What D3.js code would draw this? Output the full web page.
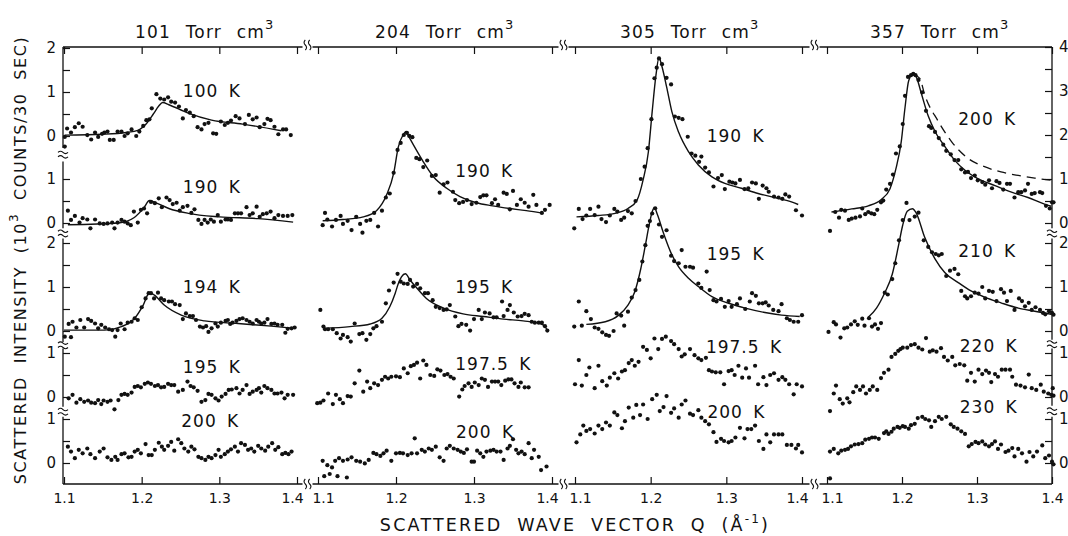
<!DOCTYPE html>
<html><head><meta charset="utf-8">
<script src="https://cdn.jsdelivr.net/npm/d3@7"></script>
<style>
body{margin:0;background:#fff}
svg{display:block}
text{font-family:"DejaVu Sans",sans-serif;fill:#111}
</style>
</head><body>
<svg id="c" width="1068" height="536"></svg>
<script>
// ---------------- DATA ----------------
const panelTitles = ["101", "204", "305", "357"];
const qTicks = [1.1, 1.2, 1.3, 1.4];
const xTitle = "SCATTERED WAVE VECTOR";
const yTitle = "SCATTERED INTENSITY";

// 101 Torr cm3
const d101_100K = [[1.101,-0.24],[1.101,-0.02],[1.104,0.17],[1.109,0.08],[1.114,0.20],[1.119,0.29],[1.124,0.21],[1.130,0.02],[1.135,-0.08],[1.140,0.08],[1.144,-0.02],[1.149,0.05],[1.152,0.08],[1.156,0.10],[1.159,-0.09],[1.164,-0.09],[1.169,0.10],[1.174,0.10],[1.178,0.00],[1.182,0.06],[1.187,0.15],[1.193,0.00],[1.197,0.10],[1.202,0.23],[1.206,0.36],[1.210,0.38],[1.213,0.63],[1.219,0.95],[1.224,0.85],[1.229,0.83],[1.234,0.88],[1.238,0.78],[1.243,0.76],[1.248,0.67],[1.253,0.40],[1.257,0.59],[1.262,0.53],[1.267,0.45],[1.272,0.20],[1.277,0.15],[1.281,0.27],[1.286,0.30],[1.292,0.06],[1.296,0.05],[1.302,0.33],[1.307,0.25],[1.311,0.30],[1.315,0.35],[1.321,0.45],[1.326,0.40],[1.333,0.27],[1.338,0.48],[1.343,0.38],[1.348,0.42],[1.352,0.20],[1.358,0.27],[1.362,0.39],[1.366,0.36],[1.371,0.21],[1.376,0.04],[1.382,0.15],[1.386,0.15],[1.392,0.02]];
const f101_100K = [[1.101,0.02],[1.15,0.04],[1.18,0.08],[1.195,0.13],[1.206,0.28],[1.215,0.50],[1.222,0.68],[1.227,0.76],[1.235,0.71],[1.26,0.52],[1.29,0.36],[1.33,0.27],[1.38,0.12]];

const d101_190K = [[1.105,0.28],[1.109,0.07],[1.114,0.16],[1.120,0.01],[1.124,0.11],[1.130,0.08],[1.134,-0.12],[1.140,0.08],[1.146,-0.01],[1.151,-0.02],[1.156,-0.01],[1.162,0.01],[1.165,-0.12],[1.169,0.01],[1.174,0.07],[1.178,0.03],[1.182,-0.01],[1.186,-0.05],[1.190,0.26],[1.195,0.01],[1.199,0.30],[1.203,0.33],[1.207,0.22],[1.212,0.48],[1.217,0.45],[1.222,0.56],[1.226,0.36],[1.232,0.58],[1.236,0.52],[1.240,0.43],[1.245,0.46],[1.249,0.28],[1.253,0.36],[1.259,0.39],[1.264,0.23],[1.268,0.31],[1.273,0.07],[1.277,-0.02],[1.281,0.07],[1.285,0.01],[1.289,0.08],[1.293,0.03],[1.298,0.18],[1.302,0.03],[1.308,0.08],[1.311,0.08],[1.315,0.07],[1.320,0.22],[1.324,0.22],[1.328,0.22],[1.335,0.36],[1.339,0.18],[1.343,0.22],[1.348,0.37],[1.352,0.14],[1.356,0.20],[1.361,0.22],[1.366,0.26],[1.371,0.11],[1.376,0.18],[1.382,0.16],[1.388,0.16],[1.394,0.18]];
const f101_190K = [[1.105,-0.04],[1.17,0.0],[1.19,0.12],[1.203,0.35],[1.210,0.51],[1.217,0.47],[1.235,0.33],[1.26,0.22],[1.30,0.14],[1.35,0.10],[1.395,0.02]];

const d101_194K = [[1.101,-0.13],[1.109,-0.14],[1.106,0.16],[1.111,0.21],[1.116,0.08],[1.121,0.25],[1.126,0.08],[1.131,0.27],[1.135,0.23],[1.140,0.17],[1.144,0.06],[1.148,0.14],[1.153,0.08],[1.158,0.04],[1.162,0.02],[1.166,-0.13],[1.169,0.02],[1.173,0.17],[1.178,0.04],[1.182,0.19],[1.187,0.21],[1.191,0.29],[1.195,0.25],[1.200,0.54],[1.205,0.74],[1.209,0.86],[1.212,0.86],[1.216,0.74],[1.221,0.87],[1.225,0.74],[1.229,0.70],[1.235,0.67],[1.239,0.67],[1.243,0.61],[1.249,0.59],[1.253,0.27],[1.257,0.40],[1.262,0.34],[1.266,0.34],[1.270,0.25],[1.275,0.10],[1.279,0.08],[1.283,0.11],[1.286,-0.02],[1.290,0.06],[1.295,0.17],[1.298,0.10],[1.302,0.19],[1.308,0.23],[1.311,0.25],[1.314,0.16],[1.317,0.19],[1.322,0.23],[1.326,0.27],[1.330,0.29],[1.335,0.25],[1.339,0.21],[1.343,0.17],[1.348,0.25],[1.351,0.21],[1.354,0.17],[1.358,0.19],[1.362,0.27],[1.367,0.16],[1.371,0.17],[1.375,0.14],[1.381,0.14],[1.385,-0.04],[1.388,0.05],[1.393,0.06],[1.397,0.08]];
const f101_194K = [[1.100,0.02],[1.152,0.02],[1.174,0.10],[1.191,0.29],[1.202,0.59],[1.210,0.87],[1.216,0.82],[1.229,0.59],[1.251,0.36],[1.281,0.23],[1.324,0.17],[1.367,0.11],[1.397,0.06]];

const d101_195K = [[1.106,-0.03],[1.111,0.05],[1.116,-0.13],[1.121,-0.05],[1.126,-0.11],[1.131,-0.08],[1.135,-0.13],[1.140,-0.14],[1.144,-0.07],[1.148,-0.16],[1.151,-0.08],[1.156,-0.11],[1.160,-0.08],[1.165,-0.28],[1.170,-0.07],[1.174,0.05],[1.178,0.07],[1.182,0.05],[1.187,0.10],[1.191,0.23],[1.195,0.25],[1.199,0.22],[1.204,0.30],[1.208,0.33],[1.212,0.30],[1.217,0.25],[1.221,0.27],[1.225,0.22],[1.229,0.23],[1.234,0.30],[1.238,0.27],[1.242,0.27],[1.247,0.12],[1.253,0.16],[1.259,0.35],[1.263,0.25],[1.267,0.22],[1.272,0.14],[1.277,-0.11],[1.282,-0.07],[1.286,0.07],[1.290,0.05],[1.295,-0.03],[1.299,-0.08],[1.303,0.01],[1.308,0.07],[1.312,0.16],[1.316,0.17],[1.322,0.20],[1.326,0.08],[1.330,0.16],[1.335,0.27],[1.339,0.07],[1.343,0.12],[1.348,0.16],[1.351,0.20],[1.354,0.10],[1.358,0.25],[1.362,0.20],[1.367,0.16],[1.371,0.08],[1.375,0.08],[1.380,0.10],[1.384,-0.03],[1.388,0.05],[1.395,0.05]];

const d101_200K = [[1.105,0.37],[1.109,0.26],[1.114,0.11],[1.119,0.30],[1.124,0.22],[1.130,0.33],[1.134,0.20],[1.140,0.11],[1.146,0.26],[1.151,0.33],[1.156,0.13],[1.161,0.07],[1.166,0.14],[1.169,0.07],[1.174,0.20],[1.178,0.22],[1.183,0.13],[1.187,0.14],[1.191,0.26],[1.195,0.30],[1.199,0.22],[1.205,0.43],[1.209,0.18],[1.213,0.18],[1.217,0.30],[1.222,0.46],[1.226,0.37],[1.229,0.30],[1.234,0.39],[1.238,0.48],[1.242,0.28],[1.247,0.54],[1.251,0.45],[1.255,0.33],[1.260,0.26],[1.264,0.37],[1.268,0.31],[1.273,0.14],[1.277,0.11],[1.282,0.07],[1.286,0.14],[1.290,0.11],[1.295,0.18],[1.299,0.30],[1.302,0.14],[1.307,0.20],[1.311,0.26],[1.315,0.31],[1.320,0.37],[1.324,0.26],[1.328,0.45],[1.333,0.41],[1.337,0.30],[1.341,0.33],[1.345,0.26],[1.350,0.39],[1.354,0.33],[1.359,0.28],[1.363,0.37],[1.368,0.45],[1.372,0.30],[1.376,0.36],[1.381,0.20],[1.385,0.23],[1.389,0.20],[1.393,0.26]];

// 204 Torr cm3
const d204_190K = [[1.106,-0.05],[1.109,0.23],[1.112,0.08],[1.118,-0.08],[1.123,0.07],[1.129,0.16],[1.132,-0.02],[1.138,0.05],[1.143,-0.16],[1.149,0.14],[1.154,-0.02],[1.157,-0.22],[1.162,0.05],[1.167,0.07],[1.172,0.23],[1.177,-0.08],[1.182,0.28],[1.187,0.58],[1.192,0.67],[1.197,1.14],[1.202,1.66],[1.206,1.82],[1.210,2.00],[1.214,2.05],[1.217,1.98],[1.221,1.95],[1.226,1.48],[1.230,1.45],[1.235,1.27],[1.240,1.42],[1.246,1.07],[1.251,1.09],[1.256,0.69],[1.261,0.88],[1.266,0.92],[1.273,0.71],[1.276,0.52],[1.281,0.45],[1.286,0.48],[1.291,0.52],[1.297,0.43],[1.303,0.46],[1.308,0.59],[1.312,0.63],[1.316,0.63],[1.323,0.45],[1.327,0.54],[1.331,0.41],[1.338,0.69],[1.342,0.66],[1.346,0.31],[1.350,0.73],[1.355,0.41],[1.360,0.54],[1.365,0.46],[1.370,0.37],[1.376,0.64],[1.380,0.41],[1.387,0.23],[1.391,0.30],[1.397,0.41]];
const f204_190K = [[1.106,0.05],[1.132,0.08],[1.158,0.14],[1.175,0.28],[1.188,0.64],[1.197,1.13],[1.203,1.73],[1.209,2.00],[1.213,2.08],[1.216,1.98],[1.226,1.66],[1.235,1.39],[1.248,1.05],[1.265,0.79],[1.282,0.60],[1.303,0.46],[1.324,0.39],[1.346,0.33],[1.367,0.28],[1.389,0.22]];

const d204_195K = [[1.103,0.48],[1.107,0.10],[1.109,0.04],[1.113,0.04],[1.119,0.04],[1.124,-0.05],[1.129,-0.17],[1.132,-0.09],[1.138,-0.14],[1.142,-0.24],[1.147,0.17],[1.153,-0.07],[1.157,-0.05],[1.162,-0.20],[1.167,-0.07],[1.171,0.06],[1.175,0.11],[1.182,0.21],[1.187,0.63],[1.191,0.92],[1.197,1.10],[1.202,1.30],[1.206,1.12],[1.210,1.08],[1.215,1.07],[1.218,1.16],[1.222,1.01],[1.227,1.07],[1.231,0.97],[1.237,0.86],[1.241,0.86],[1.247,0.70],[1.251,0.55],[1.256,0.52],[1.261,0.48],[1.265,0.49],[1.269,0.59],[1.276,0.33],[1.280,0.11],[1.284,0.16],[1.290,0.14],[1.295,0.01],[1.300,0.27],[1.306,0.48],[1.310,0.27],[1.314,0.42],[1.320,0.40],[1.325,0.31],[1.329,0.31],[1.336,0.67],[1.338,0.34],[1.343,0.48],[1.346,0.59],[1.351,0.42],[1.356,0.33],[1.361,0.34],[1.365,0.39],[1.370,0.36],[1.374,0.21],[1.378,0.19],[1.383,0.19],[1.387,0.19],[1.391,0.11],[1.394,0.01]];
const f204_195K = [[1.107,0.06],[1.141,0.10],[1.167,0.16],[1.182,0.29],[1.192,0.55],[1.199,0.86],[1.203,1.08],[1.207,1.23],[1.212,1.30],[1.218,1.16],[1.227,0.97],[1.239,0.74],[1.261,0.52],[1.286,0.39],[1.312,0.33],[1.338,0.27],[1.363,0.23],[1.385,0.17],[1.391,0.10],[1.394,0.02]];

const d204_197K = [[1.099,-0.14],[1.103,-0.13],[1.107,-0.08],[1.113,0.08],[1.119,-0.16],[1.123,0.05],[1.128,-0.05],[1.132,-0.14],[1.138,0.02],[1.142,0.01],[1.147,0.31],[1.153,0.60],[1.158,0.12],[1.163,0.35],[1.167,0.20],[1.172,0.31],[1.177,0.27],[1.182,0.39],[1.186,0.46],[1.190,0.42],[1.194,0.46],[1.200,0.47],[1.205,0.45],[1.210,0.65],[1.215,0.54],[1.219,0.70],[1.223,0.73],[1.227,0.78],[1.231,0.42],[1.235,0.83],[1.239,0.73],[1.244,0.50],[1.249,0.48],[1.253,0.63],[1.257,0.60],[1.262,0.50],[1.266,0.52],[1.270,0.46],[1.274,0.42],[1.281,0.01],[1.285,0.17],[1.288,0.25],[1.293,0.31],[1.297,0.23],[1.301,0.33],[1.306,0.27],[1.310,0.42],[1.314,0.39],[1.318,0.23],[1.323,0.35],[1.327,0.35],[1.331,0.35],[1.335,0.27],[1.340,0.37],[1.344,0.40],[1.348,0.40],[1.352,0.31],[1.357,0.23],[1.360,0.33],[1.365,0.22],[1.370,0.22]];

const d204_200K = [[1.108,-0.30],[1.115,-0.25],[1.125,-0.30],[1.137,-0.33],[1.106,0.05],[1.112,-0.05],[1.118,-0.10],[1.122,0.05],[1.127,0.11],[1.132,0.05],[1.138,0.08],[1.143,0.13],[1.149,0.05],[1.154,0.03],[1.160,-0.01],[1.165,0.07],[1.171,0.23],[1.175,0.20],[1.180,0.16],[1.184,0.22],[1.188,0.28],[1.194,0.05],[1.200,0.22],[1.205,0.23],[1.209,0.22],[1.215,0.18],[1.220,0.22],[1.224,0.56],[1.227,0.22],[1.233,0.30],[1.237,0.26],[1.242,0.33],[1.246,0.30],[1.251,0.37],[1.256,0.13],[1.261,0.05],[1.265,0.33],[1.269,0.39],[1.274,0.33],[1.279,0.30],[1.283,0.26],[1.287,0.23],[1.291,0.31],[1.297,0.03],[1.300,0.03],[1.304,0.28],[1.308,0.22],[1.312,0.14],[1.316,0.26],[1.321,0.28],[1.325,0.30],[1.329,0.26],[1.334,0.26],[1.338,0.07],[1.343,0.33],[1.346,0.39],[1.350,0.54],[1.354,0.30],[1.357,0.22],[1.361,0.26],[1.365,0.20],[1.370,0.45],[1.374,0.11],[1.377,0.30],[1.383,0.14],[1.386,-0.16],[1.393,-0.08]];

// 305 Torr cm3
const d305_190K = [[1.099,-0.12],[1.105,0.32],[1.110,0.09],[1.115,0.17],[1.120,0.32],[1.126,0.18],[1.131,0.37],[1.135,0.09],[1.141,0.02],[1.146,0.17],[1.152,0.32],[1.156,0.26],[1.161,0.07],[1.165,0.12],[1.170,0.27],[1.175,0.22],[1.180,0.50],[1.187,1.00],[1.192,1.28],[1.196,1.70],[1.201,2.36],[1.205,3.29],[1.208,3.53],[1.211,3.74],[1.215,3.61],[1.221,3.30],[1.227,3.15],[1.232,2.42],[1.237,2.39],[1.242,2.36],[1.249,1.96],[1.254,1.58],[1.259,1.53],[1.264,1.39],[1.267,1.51],[1.272,1.26],[1.277,1.15],[1.283,0.83],[1.289,1.02],[1.294,1.09],[1.298,0.77],[1.304,0.94],[1.308,0.92],[1.312,0.90],[1.318,0.98],[1.324,0.77],[1.329,0.79],[1.334,0.92],[1.339,0.90],[1.343,0.55],[1.348,0.85],[1.353,0.79],[1.356,0.71],[1.363,0.60],[1.369,0.58],[1.374,0.55],[1.378,0.65],[1.383,0.60],[1.392,0.29],[1.400,0.17]];
const f305_190K = [[1.102,0.14],[1.131,0.17],[1.153,0.22],[1.170,0.33],[1.182,0.52],[1.190,0.98],[1.197,1.62],[1.202,2.53],[1.207,3.36],[1.211,3.76],[1.215,3.55],[1.221,3.10],[1.228,2.53],[1.237,2.06],[1.250,1.62],[1.263,1.32],[1.281,1.05],[1.298,0.90],[1.320,0.79],[1.342,0.67],[1.364,0.58],[1.386,0.48],[1.395,0.42]];

const d305_195K = [[1.099,0.10],[1.105,0.67],[1.109,0.12],[1.115,0.45],[1.121,0.27],[1.126,0.08],[1.131,0.05],[1.136,-0.03],[1.141,-0.09],[1.145,-0.11],[1.151,0.00],[1.155,0.40],[1.161,0.35],[1.165,0.12],[1.170,0.44],[1.175,0.76],[1.180,0.93],[1.185,1.16],[1.189,1.58],[1.193,1.95],[1.196,2.39],[1.199,2.50],[1.202,2.67],[1.206,2.79],[1.211,2.42],[1.215,2.14],[1.221,2.29],[1.227,1.71],[1.231,1.59],[1.237,1.54],[1.241,1.84],[1.246,1.46],[1.252,1.46],[1.256,1.44],[1.263,1.08],[1.267,0.98],[1.274,1.35],[1.278,0.93],[1.283,0.70],[1.287,0.67],[1.293,0.73],[1.298,0.55],[1.303,0.68],[1.307,0.55],[1.314,0.61],[1.318,0.74],[1.325,0.50],[1.331,0.67],[1.334,0.86],[1.339,0.80],[1.343,0.63],[1.348,0.63],[1.352,0.65],[1.356,0.58],[1.362,0.48],[1.369,0.45],[1.373,0.61],[1.380,0.29],[1.384,0.25],[1.389,0.21],[1.395,0.21],[1.400,0.36]];
const f305_195K = [[1.115,0.15],[1.140,0.21],[1.157,0.35],[1.170,0.59],[1.179,0.89],[1.187,1.42],[1.193,1.95],[1.198,2.41],[1.202,2.71],[1.205,2.80],[1.209,2.64],[1.217,2.22],[1.227,1.77],[1.237,1.46],[1.250,1.20],[1.263,1.01],[1.281,0.78],[1.303,0.63],[1.325,0.52],[1.351,0.42],[1.373,0.36],[1.397,0.33]];

const d305_197K = [[1.100,0.29],[1.105,0.84],[1.109,0.26],[1.115,0.50],[1.119,0.67],[1.126,0.20],[1.131,0.71],[1.136,0.36],[1.142,0.26],[1.146,0.44],[1.152,0.54],[1.157,0.42],[1.162,0.58],[1.166,0.61],[1.171,0.77],[1.175,0.84],[1.179,0.71],[1.184,0.80],[1.190,1.14],[1.195,1.07],[1.200,0.88],[1.205,1.33],[1.210,1.09],[1.215,1.32],[1.220,1.37],[1.227,1.27],[1.231,1.20],[1.237,1.09],[1.241,0.92],[1.245,0.97],[1.252,1.09],[1.258,0.95],[1.263,0.88],[1.267,0.84],[1.273,0.89],[1.277,0.61],[1.281,0.58],[1.286,0.56],[1.292,0.56],[1.297,0.29],[1.303,0.59],[1.307,0.61],[1.311,0.50],[1.316,0.71],[1.321,0.44],[1.326,0.65],[1.330,0.44],[1.338,0.71],[1.342,0.29],[1.349,0.45],[1.353,0.27],[1.358,0.50],[1.363,0.54],[1.369,0.39],[1.374,0.45],[1.378,0.39],[1.383,0.29],[1.389,0.06],[1.393,0.29],[1.400,0.24]];

const d305_200K = [[1.102,0.47],[1.107,0.65],[1.111,0.85],[1.115,0.73],[1.120,0.77],[1.126,0.67],[1.131,0.85],[1.136,0.77],[1.141,0.92],[1.146,0.85],[1.152,1.15],[1.156,1.09],[1.162,0.79],[1.166,0.95],[1.171,1.26],[1.177,1.03],[1.181,1.32],[1.186,1.09],[1.190,1.33],[1.196,1.00],[1.202,1.45],[1.208,1.55],[1.212,1.18],[1.217,1.27],[1.221,1.52],[1.227,1.14],[1.231,1.24],[1.237,1.03],[1.241,1.33],[1.246,1.42],[1.252,1.12],[1.256,1.09],[1.263,1.20],[1.267,1.03],[1.272,0.95],[1.277,0.88],[1.283,0.70],[1.287,0.48],[1.293,0.55],[1.297,0.50],[1.303,0.47],[1.307,0.50],[1.312,0.58],[1.318,0.80],[1.324,0.56],[1.328,0.77],[1.333,0.77],[1.338,0.85],[1.343,0.50],[1.349,0.32],[1.353,0.65],[1.358,0.47],[1.363,0.65],[1.369,0.65],[1.374,0.65],[1.380,0.41],[1.386,0.41],[1.392,0.33],[1.395,0.41],[1.400,0.24]];

// 357 Torr cm3
const d357_200K = [[1.104,-0.18],[1.111,0.25],[1.116,0.12],[1.119,0.30],[1.124,0.28],[1.129,0.07],[1.133,0.10],[1.138,0.12],[1.144,0.15],[1.147,0.33],[1.151,0.20],[1.155,0.25],[1.159,0.22],[1.163,0.20],[1.167,0.30],[1.172,0.47],[1.175,0.51],[1.179,0.76],[1.184,0.89],[1.188,1.10],[1.192,1.58],[1.197,1.74],[1.201,2.25],[1.204,2.89],[1.208,3.32],[1.212,3.36],[1.215,3.39],[1.218,3.36],[1.222,3.25],[1.227,2.97],[1.232,2.55],[1.236,2.20],[1.239,2.16],[1.244,2.07],[1.249,1.93],[1.255,1.78],[1.259,1.64],[1.265,1.56],[1.270,1.43],[1.275,1.43],[1.279,1.22],[1.284,1.15],[1.288,1.16],[1.292,1.02],[1.297,1.08],[1.301,0.97],[1.307,0.93],[1.311,0.87],[1.316,0.97],[1.320,0.79],[1.326,0.95],[1.330,0.91],[1.335,0.76],[1.340,0.89],[1.344,0.89],[1.350,0.58],[1.355,0.70],[1.359,0.70],[1.364,0.74],[1.368,0.89],[1.373,0.66],[1.377,0.68],[1.384,0.70],[1.387,0.68],[1.392,0.39],[1.397,0.33],[1.400,0.47],[1.402,0.47]];
const f357_200K = [[1.106,0.25],[1.133,0.32],[1.155,0.39],[1.172,0.53],[1.184,0.78],[1.192,1.24],[1.199,1.85],[1.204,2.62],[1.209,3.24],[1.215,3.39],[1.219,3.32],[1.226,2.93],[1.235,2.43],[1.244,2.08],[1.257,1.74],[1.270,1.43],[1.284,1.20],[1.301,1.01],[1.324,0.85],[1.346,0.70],[1.368,0.58],[1.390,0.43],[1.399,0.38]];
const g357_200K = [[1.215,3.39],[1.224,3.28],[1.230,2.93],[1.248,2.32],[1.266,1.85],[1.288,1.47],[1.310,1.28],[1.332,1.16],[1.355,1.08],[1.377,1.02],[1.399,0.97]];

const d357_210K = [[1.102,-0.02],[1.109,0.20],[1.112,0.15],[1.118,-0.15],[1.123,0.06],[1.127,0.08],[1.132,0.15],[1.137,0.22],[1.141,0.14],[1.147,0.28],[1.150,0.12],[1.156,0.29],[1.160,0.10],[1.164,0.15],[1.168,0.05],[1.172,0.18],[1.177,0.87],[1.181,0.83],[1.187,1.18],[1.191,1.54],[1.196,2.06],[1.201,2.52],[1.206,2.91],[1.210,2.52],[1.217,2.60],[1.222,2.69],[1.229,2.06],[1.235,1.91],[1.240,1.79],[1.245,1.75],[1.249,1.72],[1.253,1.75],[1.259,1.25],[1.264,1.37],[1.270,1.41],[1.275,1.29],[1.279,0.91],[1.284,0.79],[1.287,0.74],[1.292,0.79],[1.297,0.87],[1.302,0.85],[1.307,1.00],[1.311,0.74],[1.316,0.91],[1.321,0.89],[1.326,0.68],[1.332,0.95],[1.336,0.87],[1.340,0.68],[1.345,0.91],[1.350,0.48],[1.356,0.74],[1.360,0.68],[1.364,0.56],[1.369,0.64],[1.373,0.48],[1.378,0.54],[1.384,0.48],[1.388,0.41],[1.391,0.38],[1.396,0.45],[1.400,0.41],[1.402,0.37]];
const f357_210K = [[1.155,0.31],[1.166,0.52],[1.177,0.87],[1.187,1.29],[1.195,1.91],[1.201,2.41],[1.207,2.72],[1.214,2.78],[1.219,2.68],[1.230,2.14],[1.244,1.64],[1.257,1.33],[1.275,1.10],[1.292,0.91],[1.310,0.77],[1.332,0.64],[1.355,0.52],[1.377,0.45],[1.399,0.38]];

const d357_220K = [[1.104,-0.32],[1.109,0.08],[1.112,0.26],[1.117,-0.05],[1.121,-0.15],[1.127,-0.03],[1.130,-0.12],[1.135,0.11],[1.139,0.24],[1.144,0.16],[1.148,0.24],[1.152,0.08],[1.157,0.16],[1.161,0.24],[1.167,0.16],[1.172,0.43],[1.176,0.55],[1.182,0.62],[1.186,0.91],[1.191,0.98],[1.195,1.05],[1.198,1.09],[1.201,1.12],[1.207,1.12],[1.212,1.18],[1.217,1.20],[1.222,1.12],[1.227,1.08],[1.232,1.34],[1.237,1.03],[1.241,1.06],[1.246,1.03],[1.252,1.11],[1.256,0.91],[1.261,0.83],[1.267,0.91],[1.271,0.72],[1.277,0.75],[1.283,0.72],[1.287,0.37],[1.292,0.55],[1.297,0.35],[1.302,0.62],[1.307,0.52],[1.312,0.60],[1.316,0.55],[1.319,0.34],[1.324,0.52],[1.328,0.46],[1.333,0.62],[1.338,0.62],[1.344,0.62],[1.347,0.46],[1.352,0.28],[1.358,0.26],[1.364,0.22],[1.369,0.51],[1.373,0.20],[1.379,0.16],[1.385,0.28],[1.389,0.12],[1.395,0.08],[1.399,0.05],[1.401,0.20],[1.402,0.03]];

const d357_230K = [[1.104,-0.35],[1.104,0.26],[1.109,0.32],[1.115,0.22],[1.119,0.28],[1.124,0.30],[1.128,0.32],[1.132,0.38],[1.137,0.42],[1.142,0.43],[1.147,0.45],[1.151,0.53],[1.156,0.55],[1.160,0.58],[1.164,0.58],[1.169,0.55],[1.176,0.68],[1.179,0.72],[1.182,0.66],[1.186,0.71],[1.189,0.78],[1.194,0.82],[1.197,0.80],[1.201,0.84],[1.204,0.82],[1.209,0.78],[1.212,0.86],[1.217,0.89],[1.221,1.02],[1.227,1.05],[1.231,1.00],[1.236,0.97],[1.239,0.82],[1.244,0.95],[1.249,1.05],[1.253,1.00],[1.259,1.05],[1.265,0.88],[1.269,0.82],[1.274,0.78],[1.279,0.72],[1.284,0.66],[1.289,0.38],[1.293,0.43],[1.298,0.48],[1.302,0.45],[1.307,0.49],[1.311,0.42],[1.316,0.38],[1.320,0.43],[1.324,0.49],[1.328,0.32],[1.332,0.42],[1.338,0.25],[1.342,0.28],[1.347,0.34],[1.350,0.15],[1.355,0.32],[1.360,0.22],[1.366,0.03],[1.370,0.25],[1.375,0.15],[1.380,0.26],[1.387,0.40],[1.391,0.11],[1.396,0.17],[1.400,0.03],[1.402,-0.03]];

// series table: panel index, row index, temperature label, points, fit, extra (dashed) fit
const series = [
  {panel:0,row:0,temp:"100 K",pts:d101_100K,fit:f101_100K},
  {panel:0,row:1,temp:"190 K",pts:d101_190K,fit:f101_190K},
  {panel:0,row:2,temp:"194 K",pts:d101_194K,fit:f101_194K},
  {panel:0,row:3,temp:"195 K",pts:d101_195K},
  {panel:0,row:4,temp:"200 K",pts:d101_200K},
  {panel:1,row:1,temp:"190 K",pts:d204_190K,fit:f204_190K},
  {panel:1,row:2,temp:"195 K",pts:d204_195K,fit:f204_195K},
  {panel:1,row:3,temp:"197.5 K",pts:d204_197K},
  {panel:1,row:4,temp:"200 K",pts:d204_200K},
  {panel:2,row:1,temp:"190 K",pts:d305_190K,fit:f305_190K},
  {panel:2,row:2,temp:"195 K",pts:d305_195K,fit:f305_195K},
  {panel:2,row:3,temp:"197.5 K",pts:d305_197K},
  {panel:2,row:4,temp:"200 K",pts:d305_200K},
  {panel:3,row:1,temp:"200 K",pts:d357_200K,fit:f357_200K,dash:g357_200K},
  {panel:3,row:2,temp:"210 K",pts:d357_210K,fit:f357_210K},
  {panel:3,row:3,temp:"220 K",pts:d357_220K},
  {panel:3,row:4,temp:"230 K",pts:d357_230K}
];

// ---------------- LAYOUT ----------------
const panelX = [[64,297],[318,552],[575,802],[827,1052]];
const rowBase = [136,223,331,397,463];
const pxPerUnit = 44;
const yTopAxis = 47, yBotAxis = 484;
const labelAt = [[1.253,0.89],[1.253,0.68],[1.253,0.86],[1.253,0.55],[1.251,0.82],
  [1.276,1.05],[1.276,0.86],[1.276,0.61],[1.277,0.57],
  [1.274,1.84],[1.274,1.61],[1.273,1.0],[1.275,1.02],
  [1.275,2.23],[1.275,1.68],[1.277,1.02],[1.277,1.14]];
const titleX = [135,375,620,870];
const leftSegs = [[0,-0.27,2,[0,0.5,1,1.5,2]],[1,-0.12,1.4,[0,0.5,1]],[2,-0.25,2.1,[0,0.5,1,1.5,2]],[3,-0.22,1.1,[0,0.5,1]],[4,-0.48,1.05,[0,0.5,1]]];
const rightSegs = [[1,-0.12,4,[0,0.5,1,1.5,2,2.5,3,3.5,4]],[2,-0.2,2.1,[0,0.5,1,1.5,2]],[3,-0.2,1.1,[0,0.5,1]],[4,-0.48,1.05,[0,0.5,1]]];

const ink = "#111";
const svg = d3.select("#c");
const xs = panelX.map(r => d3.scaleLinear().domain([1.1,1.4]).range(r));
const ys = rowBase.map(b => d3.scaleLinear().domain([0,1]).range([b, b - pxPerUnit]));

// wavy break marks drawn as paths
function breakH(x, y) { // across a horizontal axis: two vertical squiggles
  [-2.2, 2.2].forEach(o => {
    svg.append("path").attr("d", `M${x+o},${y-5} q-2.5,2.5 0,5 t0,5`)
      .attr("fill","none").attr("stroke",ink).attr("stroke-width",1.1);
  });
}
function breakV(x, y) { // across a vertical axis: two horizontal squiggles
  [-2.2, 2.2].forEach(o => {
    svg.append("path").attr("d", `M${x-5},${y+o} q2.5,-2.5 5,0 t5,0`)
      .attr("fill","none").attr("stroke",ink).attr("stroke-width",1.1);
  });
}

// ---------- horizontal axes ----------
const breaksX = [0,1,2].map(i => (panelX[i][1] + panelX[i+1][0]) / 2);
[yTopAxis, yBotAxis].forEach(yy => {
  panelX.forEach((r,i) => {
    const x0 = i === 0 ? r[0] - 1 : breaksX[i-1] + 5;
    const x1 = i === 3 ? r[1] : breaksX[i] - 5;
    svg.append("line").attr("x1",x0).attr("x2",x1).attr("y1",yy).attr("y2",yy)
      .attr("stroke",ink).attr("stroke-width",1.3);
  });
  breaksX.forEach(bx => breakH(bx, yy - (yy === yTopAxis ? 2 : 0)));
});
xs.forEach((x,i) => {
  const gt = svg.append("g").attr("transform",`translate(0,${yTopAxis})`)
    .call(d3.axisTop(x).tickValues(qTicks).tickSizeInner(-7).tickSizeOuter(0).tickFormat(""));
  gt.select(".domain").remove();
  const gb = svg.append("g").attr("transform",`translate(0,${yBotAxis})`)
    .call(d3.axisBottom(x).tickValues(qTicks).tickSizeInner(-7).tickSizeOuter(0).tickPadding(9).tickFormat(d3.format(".1f")));
  gb.select(".domain").remove();
  gb.selectAll("text").attr("font-size",14).attr("font-family","DejaVu Sans").attr("fill",ink)
    .attr("dx", d => (d === 1.1 && i > 0) ? 5 : (d === 1.4 && i < 3) ? -5 : 0);
});
svg.selectAll(".tick line").attr("stroke",ink).attr("stroke-width",1.2);

// ---------- vertical axes ----------
function vAxis(xPos, segs, side) {
  segs.forEach((s, k) => {
    const y = ys[s[0]];
    svg.append("line").attr("x1",xPos).attr("x2",xPos)
      .attr("y1", k === 0 ? yTopAxis : y(s[2])).attr("y2", k === segs.length-1 ? yBotAxis : y(s[1]))
      .attr("stroke",ink).attr("stroke-width",1.3);
    const ax = (side === "left" ? d3.axisLeft(y) : d3.axisRight(y))
      .tickValues(s[3]).tickSizeInner(-7).tickSizeOuter(0).tickPadding(7)
      .tickFormat(d => Number.isInteger(d) ? d : "");
    const g = svg.append("g").attr("transform",`translate(${xPos},0)`).call(ax);
    g.select(".domain").remove();
    g.selectAll("line").attr("stroke",ink).attr("stroke-width",1.2);
    g.selectAll("text").attr("font-size",15).attr("font-family","DejaVu Sans").attr("fill",ink);
    if (k < segs.length-1) {
      const yb = (y(s[1]) + ys[segs[k+1][0]](segs[k+1][2])) / 2;
      breakV(xPos, yb);
    }
  });
}
vAxis(panelX[0][0] - 1, leftSegs, "left");
vAxis(panelX[3][1], rightSegs, "right");

// ---------- data ----------
series.forEach((s, k) => {
  const x = xs[s.panel], y = ys[s.row];
  const line = d3.line().x(d => x(d[0])).y(d => y(d[1])).curve(d3.curveMonotoneX);
  if (s.fit) svg.append("path").attr("d", line(s.fit)).attr("fill","none").attr("stroke",ink).attr("stroke-width",1.4);
  if (s.dash) svg.append("path").attr("d", line(s.dash)).attr("fill","none").attr("stroke",ink)
      .attr("stroke-width",1.3).attr("stroke-dasharray","9,6");
  svg.append("g").selectAll("circle").data(s.pts).join("circle")
    .attr("cx", d => x(d[0])).attr("cy", d => y(d[1])).attr("r", 2.1).attr("fill", ink);
  const la = labelAt[k];
  svg.append("text").attr("x", x(la[0])).attr("y", y(la[1]))
    .attr("font-size",17).style("letter-spacing","1px").style("word-spacing","4px").text(s.temp);
});

// ---------- titles ----------
panelTitles.forEach((t,i) => {
  const tx = svg.append("text").attr("x", titleX[i]).attr("y", 38).attr("font-size",17)
    .style("letter-spacing","1.2px").style("word-spacing","8px");
  tx.append("tspan").text(t + " Torr cm");
  tx.append("tspan").attr("dy",-9).attr("font-size",13).text("3");
});

const yt = svg.append("text").attr("transform","translate(26,260) rotate(-90)")
  .attr("text-anchor","middle").attr("font-size",16).style("letter-spacing","1.6px").style("word-spacing","6px");
yt.append("tspan").text(yTitle + " (10");
yt.append("tspan").attr("dy",-8).attr("font-size",12).text("3");
yt.append("tspan").attr("dy",8).text(" COUNTS/30 SEC)");

const xt = svg.append("text").attr("x", 575).attr("y", 531).attr("text-anchor","middle")
  .attr("font-size",17.5).style("letter-spacing","2.2px").style("word-spacing","7px");
xt.append("tspan").text(xTitle + "  Q (Å");
xt.append("tspan").attr("dy",-8).attr("font-size",12).text("-1");
xt.append("tspan").attr("dy",8).text(")");
</script>
</body></html>
